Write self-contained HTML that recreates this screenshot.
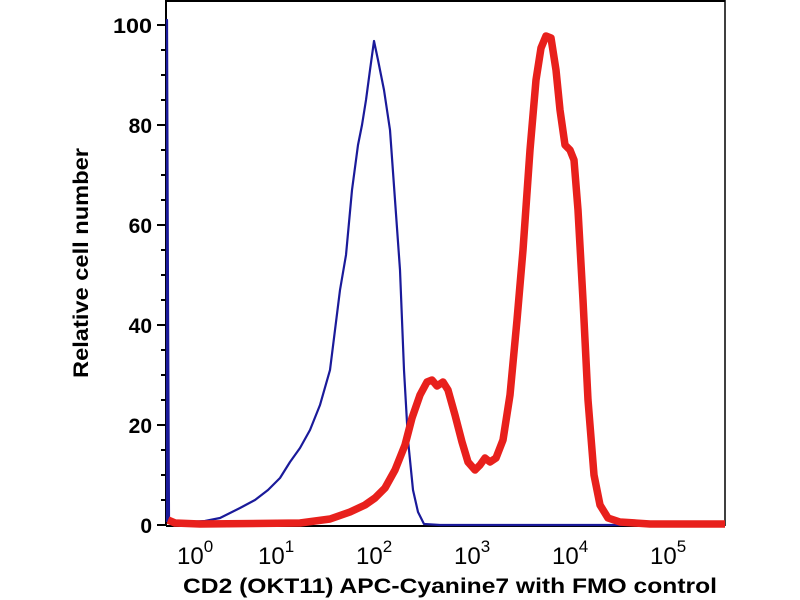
<!DOCTYPE html>
<html><head><meta charset="utf-8"><style>
html,body{margin:0;padding:0;background:#fff;}
svg{display:block;font-family:"Liberation Sans",sans-serif;font-weight:bold;}
</style></head><body>
<svg width="800" height="600" viewBox="0 0 800 600">
<rect x="0" y="0" width="800" height="600" fill="#fff"/>
<line x1="166" y1="1" x2="725" y2="1" stroke="#000" stroke-width="2"/>
<line x1="725" y1="0" x2="725" y2="526" stroke="#000" stroke-width="1.5"/>
<line x1="166" y1="0" x2="166" y2="526" stroke="#000" stroke-width="2"/>
<line x1="166" y1="526" x2="725" y2="526" stroke="#000" stroke-width="2"/>
<g stroke="#000" stroke-width="2">
<line x1="157" y1="25" x2="166" y2="25"/><line x1="157" y1="125" x2="166" y2="125"/>
<line x1="157" y1="225" x2="166" y2="225"/><line x1="157" y1="325" x2="166" y2="325"/>
<line x1="157" y1="425" x2="166" y2="425"/><line x1="157" y1="525" x2="166" y2="525"/>
<line x1="161" y1="50" x2="166" y2="50"/><line x1="161" y1="75" x2="166" y2="75"/><line x1="161" y1="100" x2="166" y2="100"/>
<line x1="161" y1="150" x2="166" y2="150"/><line x1="161" y1="175" x2="166" y2="175"/><line x1="161" y1="200" x2="166" y2="200"/>
<line x1="161" y1="250" x2="166" y2="250"/><line x1="161" y1="275" x2="166" y2="275"/><line x1="161" y1="300" x2="166" y2="300"/>
<line x1="161" y1="350" x2="166" y2="350"/><line x1="161" y1="375" x2="166" y2="375"/><line x1="161" y1="400" x2="166" y2="400"/>
<line x1="161" y1="450" x2="166" y2="450"/><line x1="161" y1="475" x2="166" y2="475"/><line x1="161" y1="500" x2="166" y2="500"/>
</g>
<g font-size="21" text-anchor="end" fill="#000">
<text x="152" y="33" textLength="39" lengthAdjust="spacingAndGlyphs">100</text><text x="152" y="133">80</text><text x="152" y="233">60</text>
<text x="152" y="333">40</text><text x="152" y="433">20</text><text x="152" y="533">0</text>
</g>
<g stroke="#000" stroke-width="2" id="xt"></g>
<script>
var g=document.getElementById('xt'),s='';
for(var d=0;d<6;d++){var b=164+98*d;
 s+='<line x1="'+b+'" y1="526" x2="'+b+'" y2="538"/>';
 for(var k=2;k<10;k++){var x=b+98*Math.log10(k);if(x<724)s+='<line x1="'+x+'" y1="526" x2="'+x+'" y2="532"/>';}}
g.innerHTML=s;
</script>
<g font-size="24" fill="#000" font-weight="normal" font-family="Liberation Sans, sans-serif">
<text x="177" y="564">10<tspan font-size="17" dy="-12">0</tspan></text>
<text x="258" y="564">10<tspan font-size="17" dy="-12">1</tspan></text>
<text x="356" y="564">10<tspan font-size="17" dy="-12">2</tspan></text>
<text x="454" y="564">10<tspan font-size="17" dy="-12">3</tspan></text>
<text x="552" y="564">10<tspan font-size="17" dy="-12">4</tspan></text>
<text x="650" y="564">10<tspan font-size="17" dy="-12">5</tspan></text>
</g>
<text x="183" y="593" font-size="21" textLength="534" lengthAdjust="spacingAndGlyphs">CD2 (OKT11) APC-Cyanine7 with FMO control</text>
<text transform="translate(88,378) rotate(-90)" font-size="21" textLength="230" lengthAdjust="spacingAndGlyphs">Relative cell number</text>
<polyline fill="none" stroke="#1a1a9a" stroke-width="2.2" stroke-linejoin="round"
points="167,522 167,20 168,300 169,520 172,524 180,524 190,522 205,521 220,518 240,508 255,500 268,490 280,478 290,462 300,448 310,430 320,405 330,370 340,290 346,255 352,190 358,145 362,125 366,100 370,70 374,41 378,60 384,90 390,130 395,200 400,270 404,370 408,440 413,490 418,512 424,524 440,525 725,525"/>
<polyline fill="none" stroke="#e8201c" stroke-width="7.5" stroke-linejoin="round"
points="168,520 175,523 200,524 300,523 330,519 350,512 365,505 375,498 385,488 395,470 405,445 412,418 420,395 427,382 432,380 437,386 443,382 448,390 455,415 462,442 468,462 475,470 480,465 485,458 490,462 496,458 503,440 510,395 517,320 523,250 530,150 536,80 541,48 546,36 551,38 556,70 560,110 565,145 570,150 574,160 578,210 583,300 588,400 594,475 600,505 608,518 620,522 650,524 725,524"/>
</svg>
</body></html>
